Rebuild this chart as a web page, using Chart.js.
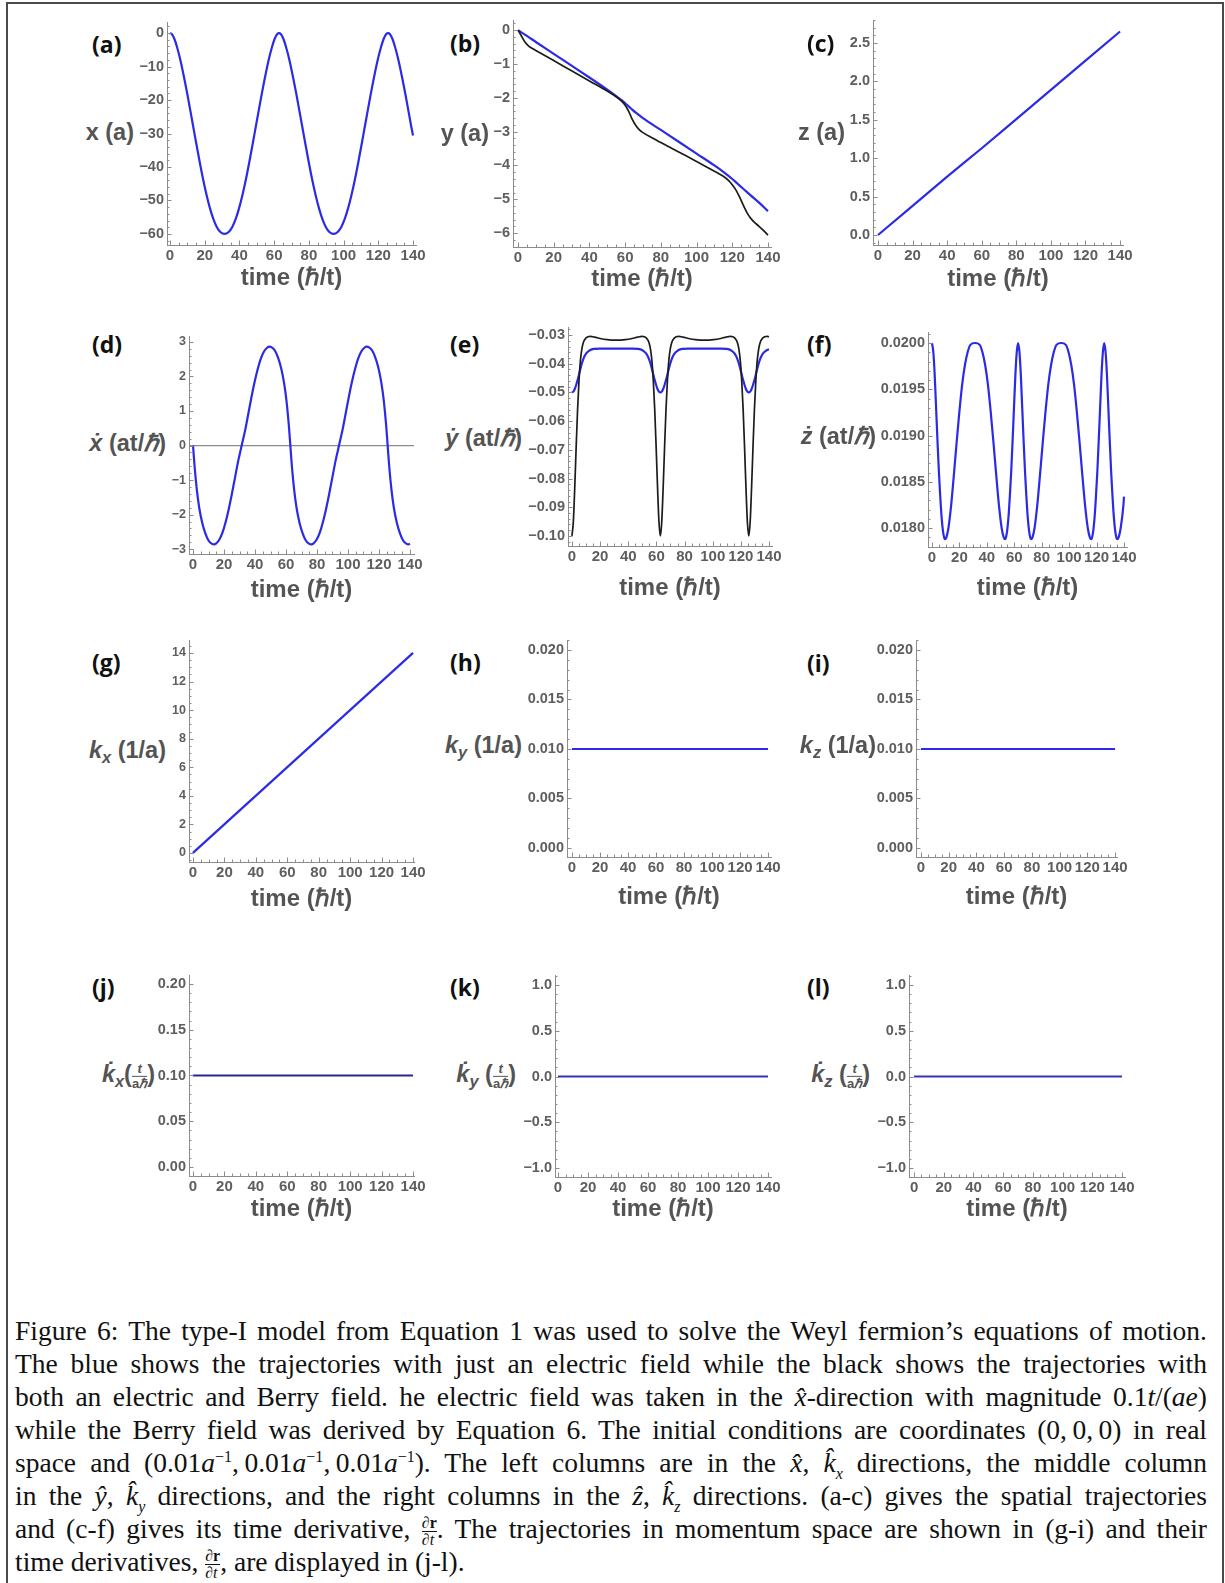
<!DOCTYPE html>
<html>
<head>
<meta charset="utf-8">
<script src="https://cdn.jsdelivr.net/npm/chart.js@4.4.0/dist/chart.umd.min.js"></script>
<style>
  body { margin: 0; background: #fff; }
  #page { position: relative; width: 1225px; height: 1583px; overflow: hidden; background: #fff; }
  #frame { position: absolute; left: 6px; top: 2px; width: 1218px; height: 1640px; border: 2px solid #4a4a4a; box-sizing: border-box; }
  canvas { position: absolute; }
  .plab { position: absolute; font-family: "Open Sans", "Liberation Sans", sans-serif; font-weight: 700; font-size: 23px; color: #111; transform: translateY(-50%); line-height: 1; }
  .ylab { position: absolute; font-family: "Liberation Sans", Arial, sans-serif; font-weight: 700; font-size: 23.5px; color: #545454; transform: translateY(-50%); white-space: nowrap; line-height: 1; }
  .ylab sub { font-size: 70%; vertical-align: -0.3em; }
  .yf { display: inline-flex; flex-direction: column; vertical-align: middle; font-size: 13px; line-height: 1.05; text-align: center; }
  .yf span:first-child { border-bottom: 1.5px solid #545454; padding: 0 2px; }
  #caption { position: absolute; left: 15px; top: 1314px; width: 1192px; font-family: "Liberation Serif", "DejaVu Serif", serif; font-size: 27.5px; color: #111; }
  #caption div { height: 33px; line-height: 33px; text-align: justify; text-align-last: justify; white-space: nowrap; }
  #caption div.last { text-align-last: left; }
  .fr { display: inline-flex; flex-direction: column; vertical-align: middle; font-size: 16px; line-height: 1.0; text-align: center; }
  .fr span:first-child { border-bottom: 1px solid #111; }
  #caption sup { font-size: 16px; line-height: 0; }
  #caption sub { font-size: 16px; line-height: 0; }
</style>
</head>
<body>
<div id="page">
  <div id="frame"></div>
  <div id="caption">
    <div>Figure 6: The type-I model from Equation 1 was used to solve the Weyl fermion’s equations of motion.</div>
    <div>The blue shows the trajectories with just an electric field while the black shows the trajectories with</div>
    <div>both an electric and Berry field. he electric field was taken in the <i>x̂</i>-direction with magnitude 0.1<i>t</i>/(<i>ae</i>)</div>
    <div>while the Berry field was derived by Equation 6. The initial conditions are coordinates (0,&thinsp;0,&thinsp;0) in real</div>
    <div>space and (0.01<i>a</i><sup>−1</sup>,&thinsp;0.01<i>a</i><sup>−1</sup>,&thinsp;0.01<i>a</i><sup>−1</sup>). The left columns are in the <i>x̂</i>, <i>k̂</i><sub><i>x</i></sub> directions, the middle column</div>
    <div>in the <i>ŷ</i>, <i>k̂</i><sub><i>y</i></sub> directions, and the right columns in the <i>ẑ</i>, <i>k̂</i><sub><i>z</i></sub> directions. (a-c) gives the spatial trajectories</div>
    <div>and (c-f) gives its time derivative, <span class="fr"><span>∂<b>r</b></span><span>∂<i>t</i></span></span>. The trajectories in momentum space are shown in (g-i) and their</div>
    <div class="last">time derivatives, <span class="fr"><span>∂<b>r</b></span><span>∂<i>t</i></span></span>, are displayed in (j-l).</div>
  </div>
</div>
<script>
var BLUE = '#2b2be6';
var BLACK = '#1c1c1c';

// shared time axis tick labels
var timeTicks = [0, 20, 40, 60, 80, 100, 120, 140];

// (a) x(t) and (d) x-dot(t), blue only
var tX = [0, 1, 2.5, 4, 6, 8, 10, 12, 13.5, 15, 17, 19, 21, 23, 25, 27, 29, 31.4,
  33.8, 35.8, 37.8, 39.8, 41.8, 43.8, 45.8, 47.8, 49.3, 50.8, 52.8, 54.8, 56.8, 58.8, 60.3, 61.8, 62.8,
  63.8, 65.3, 66.8, 68.8, 70.8, 72.8, 74.8, 76.3, 77.8, 79.8, 81.8, 83.8, 85.8, 87.8, 89.8, 91.8, 94.2,
  96.6, 98.6, 100.6, 102.6, 104.6, 106.6, 108.6, 110.6, 112.1, 113.6, 115.6, 117.6, 119.6, 121.6, 123.1, 124.6, 125.6,
  126.6, 128.1, 129.6, 131.6, 133.6, 135.6, 137.6, 139.1, 140];
var xPos = [0, -0.3, -1.7, -4.1, -8.1, -13.0, -18.3, -24.0, -28.3, -32.6, -38.2, -43.5, -48.2, -52.3, -55.6, -58.0, -59.4, -60.0,
  -59.4, -58.0, -55.6, -52.3, -48.2, -43.5, -38.2, -32.6, -28.3, -24.0, -18.3, -13.0, -8.1, -4.1, -1.7, -0.3, 0,
  -0.3, -1.7, -4.1, -8.1, -13.0, -18.3, -24.0, -28.3, -32.6, -38.2, -43.5, -48.2, -52.3, -55.6, -58.0, -59.4, -60.0,
  -59.4, -58.0, -55.6, -52.3, -48.2, -43.5, -38.2, -32.6, -28.3, -24.0, -18.3, -13.0, -8.1, -4.1, -1.7, -0.3, 0,
  -0.3, -1.7, -4.1, -8.1, -13.0, -18.3, -24.0, -28.3, -30.6];
var xDot = [0, -0.6, -1.3, -1.8, -2.25, -2.55, -2.75, -2.84, -2.86, -2.83, -2.72, -2.52, -2.22, -1.85, -1.42, -0.95, -0.48, 0,
  0.48, 0.95, 1.42, 1.85, 2.22, 2.52, 2.72, 2.83, 2.86, 2.84, 2.75, 2.55, 2.25, 1.8, 1.3, 0.6, 0,
  -0.6, -1.3, -1.8, -2.25, -2.55, -2.75, -2.84, -2.86, -2.83, -2.72, -2.52, -2.22, -1.85, -1.42, -0.95, -0.48, 0,
  0.48, 0.95, 1.42, 1.85, 2.22, 2.52, 2.72, 2.83, 2.86, 2.84, 2.75, 2.55, 2.25, 1.8, 1.3, 0.6, 0,
  -0.6, -1.3, -1.8, -2.25, -2.55, -2.75, -2.84, -2.86, -2.84];

// (b) y(t)
var tYBlack = [0, 2, 4, 6, 8, 10, 15, 20, 30, 40, 50, 55, 58, 60, 62, 63, 64, 66, 68, 70, 75, 80, 90, 100, 110, 115,
  118, 120, 122, 124, 126, 128, 130, 132, 135, 138, 140];
var yPosBlack = [0, -0.18, -0.36, -0.47, -0.54, -0.6, -0.75, -0.9, -1.2, -1.5, -1.8, -1.97, -2.1, -2.22, -2.4, -2.52,
  -2.64, -2.82, -2.95, -3.03, -3.18, -3.32, -3.6, -3.88, -4.17, -4.32, -4.45, -4.57, -4.72, -4.92, -5.15, -5.37,
  -5.54, -5.66, -5.8, -5.95, -6.06];
var tYBlue = [0, 5, 10, 20, 30, 40, 50, 55, 58, 60, 63, 66, 70, 80, 90, 100, 110, 115, 120, 123, 126, 130, 135, 140];
var yPosBlue = [0, -0.17, -0.35, -0.7, -1.05, -1.4, -1.76, -1.95, -2.07, -2.16, -2.3, -2.44, -2.6, -2.95, -3.3,
  -3.65, -4.0, -4.19, -4.4, -4.54, -4.68, -4.87, -5.1, -5.35];

// (c) z(t)
var tZ = [0, 20, 40, 60, 80, 100, 120, 140];
var zPos = [0, 0.38, 0.76, 1.13, 1.51, 1.89, 2.27, 2.65];

// (e) y-dot(t)
var tE = [0, 1, 2, 3, 4, 5, 6, 7, 8, 10, 13, 16, 20, 25, 31.4,
  37.8, 42.8, 46.8, 49.8, 52.8, 54.8, 55.8, 56.8, 57.8, 58.8, 59.8, 60.8, 61.8, 62.8,
  63.8, 64.8, 65.8, 66.8, 67.8, 68.8, 69.8, 70.8, 72.8, 75.8, 78.8, 82.8, 87.8, 94.2,
  100.6, 105.6, 109.6, 112.6, 115.6, 117.6, 118.6, 119.6, 120.6, 121.6, 122.6, 123.6, 124.6, 125.6,
  126.6, 127.6, 128.6, 129.6, 130.6, 131.6, 132.6, 133.6, 135.6, 138.6, 140];
var yDotBlack = [-0.100, -0.095, -0.083, -0.069, -0.056, -0.046, -0.039, -0.035, -0.0328, -0.0310, -0.0305, -0.0307, -0.0312, -0.0316, -0.0318,
  -0.0316, -0.0312, -0.0307, -0.0305, -0.0310, -0.0328, -0.035, -0.039, -0.046, -0.056, -0.069, -0.083, -0.095, -0.100,
  -0.095, -0.083, -0.069, -0.056, -0.046, -0.039, -0.035, -0.0328, -0.0310, -0.0305, -0.0307, -0.0312, -0.0316, -0.0318,
  -0.0316, -0.0312, -0.0307, -0.0305, -0.0310, -0.0328, -0.035, -0.039, -0.046, -0.056, -0.069, -0.083, -0.095, -0.100,
  -0.095, -0.083, -0.069, -0.056, -0.046, -0.039, -0.035, -0.0328, -0.0310, -0.0305, -0.0306];
var yDotBlue = [-0.0500, -0.0497, -0.0488, -0.0474, -0.0457, -0.0438, -0.0418, -0.0400, -0.0385, -0.0365, -0.0352, -0.0348, -0.0347, -0.0347, -0.0347,
  -0.0347, -0.0347, -0.0348, -0.0352, -0.0365, -0.0385, -0.0400, -0.0418, -0.0438, -0.0457, -0.0474, -0.0488, -0.0497, -0.0500,
  -0.0497, -0.0488, -0.0474, -0.0457, -0.0438, -0.0418, -0.0400, -0.0385, -0.0365, -0.0352, -0.0348, -0.0347, -0.0347, -0.0347,
  -0.0347, -0.0347, -0.0348, -0.0352, -0.0365, -0.0385, -0.0400, -0.0418, -0.0438, -0.0457, -0.0474, -0.0488, -0.0497, -0.0500,
  -0.0497, -0.0488, -0.0474, -0.0457, -0.0438, -0.0418, -0.0400, -0.0385, -0.0365, -0.0352, -0.0350];

// (f) z-dot(t)
var tF = [0, 1, 2, 3, 4, 5, 6, 7, 8, 9, 9.5, 10.5, 12, 14, 16, 18, 20, 22, 24, 26, 28, 31.4,
  34.8, 36.8, 38.8, 40.8, 42.8, 44.8, 46.8, 48.8, 50.8, 52.3, 53.3, 53.8, 54.8, 55.8, 56.8, 57.8, 58.8, 59.8, 60.8, 61.8, 62.8,
  63.8, 64.8, 65.8, 66.8, 67.8, 68.8, 69.8, 70.8, 71.8, 72.3, 73.3, 74.8, 76.8, 78.8, 80.8, 82.8, 84.8, 86.8, 88.8, 90.8, 94.2,
  97.6, 99.6, 101.6, 103.6, 105.6, 107.6, 109.6, 111.6, 113.6, 115.1, 116.1, 116.6, 117.6, 118.6, 119.6, 120.6, 121.6, 122.6, 123.6, 124.6, 125.6,
  126.6, 127.6, 128.6, 129.6, 130.6, 131.6, 132.6, 133.6, 134.6, 135.1, 136.1, 137.6, 139.6, 140];
var zDot = [0.02000, 0.01990, 0.01965, 0.01930, 0.01895, 0.01862, 0.01835, 0.01812, 0.01797, 0.01789, 0.01788, 0.01790, 0.01800, 0.01825, 0.01858, 0.01893, 0.01926, 0.01955, 0.01976, 0.01990, 0.01998, 0.02000,
  0.01998, 0.01990, 0.01976, 0.01955, 0.01926, 0.01893, 0.01858, 0.01825, 0.01800, 0.01790, 0.01788, 0.01789, 0.01797, 0.01812, 0.01835, 0.01862, 0.01895, 0.01930, 0.01965, 0.01990, 0.02000,
  0.01990, 0.01965, 0.01930, 0.01895, 0.01862, 0.01835, 0.01812, 0.01797, 0.01789, 0.01788, 0.01790, 0.01800, 0.01825, 0.01858, 0.01893, 0.01926, 0.01955, 0.01976, 0.01990, 0.01998, 0.02000,
  0.01998, 0.01990, 0.01976, 0.01955, 0.01926, 0.01893, 0.01858, 0.01825, 0.01800, 0.01790, 0.01788, 0.01789, 0.01797, 0.01812, 0.01835, 0.01862, 0.01895, 0.01930, 0.01965, 0.01990, 0.02000,
  0.01990, 0.01965, 0.01930, 0.01895, 0.01862, 0.01835, 0.01812, 0.01797, 0.01789, 0.01788, 0.01790, 0.01800, 0.01825, 0.01834];

// (g)-(l) momentum and its time derivative
var tK = [0, 140];
var kx = [0.01, 14.01];
var ky = [0.01, 0.01];
var kz = [0.01, 0.01];
var kxDot = [0.1, 0.1];
var kyDot = [0, 0];
var kzDot = [0, 0];

// y tick labels
var yTicksA = [0, -10, -20, -30, -40, -50, -60];
var yTicksB = [0, -1, -2, -3, -4, -5, -6];
var yTicksC = [0, 0.5, 1.0, 1.5, 2.0, 2.5];
var yTicksD = [3, 2, 1, 0, -1, -2, -3];
var yTicksE = [-0.03, -0.04, -0.05, -0.06, -0.07, -0.08, -0.09, -0.10];
var yTicksF = [0.0200, 0.0195, 0.0190, 0.0185, 0.0180];
var yTicksG = [14, 12, 10, 8, 6, 4, 2, 0];
var yTicksH = [0.020, 0.015, 0.010, 0.005, 0.000];
var yTicksJ = [0.20, 0.15, 0.10, 0.05, 0.00];
var yTicksK = [1.0, 0.5, 0.0, -0.5, -1.0];

var yfrac = '<span class="yf"><span><i>t</i></span><span>a<i>ℏ</i></span></span>';

// layout: box = [left, top, right, bottom] of the plot area in page pixels
var panels = [
  {letter: '(a)', lx: 92, ly: 44, box: [167, 22, 416, 245], xr: [-1.73, 141.7], yr: [-63.3, 3.3], yt: yTicksA, ym: 5, yd: 0,
   ylab: 'x (a)', yr_: 134, yc: 133, gap: 34, series: [{t: tX, v: xPos, c: BLUE}]},
  {letter: '(b)', lx: 450, ly: 43, box: [513, 20, 771, 247], xr: [-2.8, 141.7], yr: [-6.41, 0.3], yt: yTicksB, ym: 5, yd: 0,
   ylab: 'y (a)', yr_: 489, yc: 134, gap: 33, series: [{t: tYBlack, v: yPosBlack, c: BLACK, w: 1.7}, {t: tYBlue, v: yPosBlue, c: BLUE}]},
  {letter: '(c)', lx: 807, ly: 43, box: [873, 20, 1123, 245], xr: [-2.9, 141.7], yr: [-0.13, 2.8], yt: yTicksC, ym: 5, yd: 1,
   ylab: 'z (a)', yr_: 845, yc: 133, gap: 35, series: [{t: tZ, v: zPos, c: BLUE}]},
  {letter: '(d)', lx: 92, ly: 344, box: [189, 336, 414, 554], xr: [-2.6, 142.6], yr: [-3.14, 3.17], yt: yTicksD, ym: 5, yd: 0, zero: true, tsize: 12.5,
   ylab: '<i>ẋ</i> (at/<i>ℏ</i>)', yr_: 166, yc: 444, gap: 37, series: [{t: tX, v: xDot, c: BLUE}]},
  {letter: '(e)', lx: 450, ly: 344, box: [568, 327, 772, 546], xr: [-2.8, 142.1], yr: [-0.1035, -0.0272], yt: yTicksE, ym: 5, yd: 2,
   ylab: '<i>ẏ</i> (at/<i>ℏ</i>)', yr_: 522, yc: 439, gap: 43, series: [{t: tE, v: yDotBlack, c: BLACK, w: 1.7}, {t: tE, v: yDotBlue, c: BLUE}]},
  {letter: '(f)', lx: 807, ly: 344, box: [928, 332, 1127, 547], xr: [-2.9, 142.2], yr: [0.017795, 0.020119], yt: yTicksF, ym: 5, yd: 4,
   ylab: '<i>ż</i> (at/<i>ℏ</i>)', yr_: 876, yc: 437, gap: 42, series: [{t: tF, v: zDot, c: BLUE}]},
  {letter: '(g)', lx: 92, ly: 662, box: [189, 640, 414, 862], xr: [-2.5, 140.6], yr: [-0.63, 14.91], yt: yTicksG, ym: 4, yd: 0, tsize: 12.5,
   ylab: '<i>k<sub>x</sub></i> (1/a)', yr_: 166, yc: 752, gap: 38, series: [{t: tK, v: kx, c: BLUE}]},
  {letter: '(h)', lx: 450, ly: 662, box: [567, 640, 771, 857], xr: [-3.6, 142.1], yr: [-0.00091, 0.02101], yt: yTicksH, ym: 5, yd: 3,
   ylab: '<i>k<sub>y</sub></i> (1/a)', yr_: 522, yc: 747, gap: 41, series: [{t: tK, v: ky, c: BLUE}]},
  {letter: '(i)', lx: 807, ly: 663, box: [916, 640, 1117, 857], xr: [-3.6, 141.4], yr: [-0.00091, 0.02101], yt: yTicksH, ym: 5, yd: 3,
   ylab: '<i>k<sub>z</sub></i> (1/a)', yr_: 876, yc: 747, gap: 41, series: [{t: tK, v: kz, c: BLUE}]},
  {letter: '(j)', lx: 92, ly: 987, box: [189, 975, 414, 1176], xr: [-2.5, 140.6], yr: [-0.0098, 0.2098], yt: yTicksJ, ym: 5, yd: 2,
   ylab: '<i>k̇<sub>x</sub></i>(' + yfrac + ')', yr_: 155, yc: 1076, gap: 34, series: [{t: tK, v: kxDot, c: '#26268c'}]},
  {letter: '(k)', lx: 450, ly: 987, box: [555, 975, 771, 1177], xr: [-2, 142], yr: [-1.098, 1.109], yt: yTicksK, ym: 5, yd: 1,
   ylab: '<i>k̇<sub>y</sub></i> (' + yfrac + ')', yr_: 516, yc: 1076, gap: 33, series: [{t: tK, v: kyDot, c: '#3434bb'}]},
  {letter: '(l)', lx: 807, ly: 987, box: [909, 975, 1125, 1177], xr: [-3.4, 142], yr: [-1.098, 1.109], yt: yTicksK, ym: 5, yd: 1,
   ylab: '<i>k̇<sub>z</sub></i> (' + yfrac + ')', yr_: 870, yc: 1076, gap: 33, series: [{t: tK, v: kzDot, c: '#3434bb'}]}
];

var FAMILY = '"Liberation Sans", Arial, sans-serif';
var TICKCOLOR = '#5e5e5e';
var AXISCOLOR = '#8c8c8c';

// major ticks from the label list, minor ones in between
function buildTicks(majors, nMinor, min, max) {
  var sorted = majors.slice().sort(function(a, b) { return a - b; });
  var step = (sorted[1] - sorted[0]) / nMinor;
  var start = sorted[0] - Math.floor((sorted[0] - min) / step) * step;
  var out = [];
  for (var i = 0; i < 500; i++) {
    var v = +(start + i * step).toFixed(9);
    if (v > max + 1e-12) break;
    if (v < min - 1e-12) continue;
    var isMajor = sorted.some(function(m) { return Math.abs(m - v) < step * 1e-3; });
    out.push({value: v, isMajor: isMajor});
  }
  return out;
}

function fmt(v, dec) {
  if (Math.abs(v) < 1e-12) v = 0;
  return v.toFixed(dec).replace('-', '\u2212');
}

var inwardTicks = {
  id: 'inwardTicks',
  afterDraw: function(chart) {
    var ctx = chart.ctx, a = chart.chartArea;
    ctx.save();
    ctx.strokeStyle = AXISCOLOR;
    ctx.lineWidth = 1;
    ['x', 'y'].forEach(function(k) {
      var sc = chart.scales[k];
      sc.ticks.forEach(function(tk) {
        var len = tk.isMajor ? 4.5 : 2.5;
        var p = Math.round(sc.getPixelForValue(tk.value)) + 0.5;
        ctx.beginPath();
        if (k === 'x') { ctx.moveTo(p, a.bottom); ctx.lineTo(p, a.bottom - len); }
        else { ctx.moveTo(a.left, p); ctx.lineTo(a.left + len, p); }
        ctx.stroke();
      });
    });
    ctx.restore();
  }
};

var page = document.getElementById('page');
var YW = 75, PT = 12, PR = 30;

panels.forEach(function(p) {
  var lab = document.createElement('div');
  lab.className = 'plab';
  lab.style.left = p.lx + 'px';
  lab.style.top = p.ly + 'px';
  lab.textContent = p.letter;
  page.appendChild(lab);

  var yl = document.createElement('div');
  yl.className = 'ylab';
  yl.style.right = (1225 - p.yr_) + 'px';
  yl.style.top = p.yc + 'px';
  yl.innerHTML = p.ylab;
  page.appendChild(yl);

  var XH = p.gap + 17;
  var b = p.box;
  var cv = document.createElement('canvas');
  var w = b[2] - b[0] + YW + PR, h = b[3] - b[1] + PT + XH;
  cv.width = w; cv.height = h;
  cv.style.left = (b[0] - YW) + 'px';
  cv.style.top = (b[1] - PT) + 'px';
  cv.style.width = w + 'px';
  cv.style.height = h + 'px';
  page.appendChild(cv);

  var datasets = p.series.map(function(s) {
    return {
      data: s.t.map(function(t, i) { return {x: t, y: s.v[i]}; }),
      borderColor: s.c,
      borderWidth: s.w || 2.2,
      pointRadius: 0,
      fill: false,
      cubicInterpolationMode: 'monotone'
    };
  });

  new Chart(cv.getContext('2d'), {
    type: 'line',
    data: {datasets: datasets},
    options: {
      responsive: false,
      animation: false,
      layout: {padding: {top: PT, right: PR, left: 0, bottom: 0}},
      plugins: {legend: {display: false}, tooltip: {enabled: false}},
      scales: {
        x: {
          type: 'linear', min: p.xr[0], max: p.xr[1],
          afterFit: function(s) { s.height = XH; },
          afterBuildTicks: function(s) { s.ticks = buildTicks(timeTicks, 4, s.min, s.max); },
          ticks: {
            autoSkip: false, maxRotation: 0, minRotation: 0, padding: 2,
            font: {family: FAMILY, size: 15, weight: 'bold'}, color: TICKCOLOR,
            callback: function(v, i, ticks) { return ticks[i].isMajor ? fmt(v, 0) : ''; }
          },
          grid: {display: false, drawTicks: false},
          border: {display: true, color: AXISCOLOR, width: 1},
          title: {
            display: true, text: 'time (ℏ/t)', color: '#545454',
            font: {family: FAMILY, size: 24, weight: 'bold'},
            padding: {top: 0, bottom: 3}
          }
        },
        y: {
          type: 'linear', min: p.yr[0], max: p.yr[1],
          afterFit: function(s) { s.width = YW; },
          afterBuildTicks: function(s) { s.ticks = buildTicks(p.yt, p.ym, s.min, s.max); },
          ticks: {
            autoSkip: false, padding: 3,
            font: {family: FAMILY, size: p.tsize || 14.5, weight: 'bold'}, color: TICKCOLOR,
            callback: function(v, i, ticks) { return ticks[i].isMajor ? fmt(v, p.yd) : ''; }
          },
          grid: {
            display: !!p.zero, drawTicks: false, drawOnChartArea: true, lineWidth: 1.2,
            color: function(c) { return (c.tick && Math.abs(c.tick.value) < 1e-9) ? '#8c8c8c' : 'rgba(0,0,0,0)'; }
          },
          border: {display: true, color: AXISCOLOR, width: 1}
        }
      }
    },
    plugins: [inwardTicks]
  });
});
</script>
</body>
</html>
